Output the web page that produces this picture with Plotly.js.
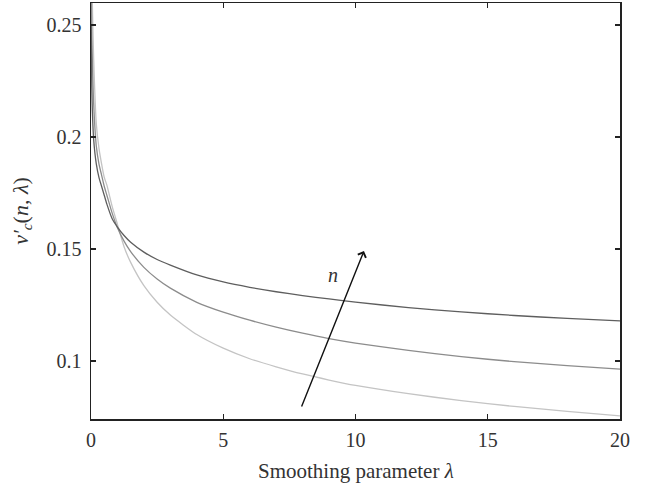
<!DOCTYPE html>
<html>
<head>
<meta charset="utf-8">
<script src="https://cdn.plot.ly/plotly-3.0.1.min.js"></script>
<style>html,body{margin:0;padding:0;background:#fff;}#chart{width:646px;height:486px;}</style>
</head>
<body>
<div id="chart"></div>
<script>
// Smoothing parameter λ (sample positions)
var lambdaVals = [0.01, 0.02, 0.03, 0.05, 0.1, 0.2, 0.3, 0.4, 0.5, 0.6, 0.8, 1.0, 1.25, 1.5, 2, 2.5, 3, 4, 5, 6, 7, 8, 9, 10, 12, 14, 16, 18, 20];
// three curves, n increasing from light to dark
var nuSmallN = [0.33, 0.30, 0.28, 0.260, 0.235, 0.206, 0.195, 0.188, 0.182, 0.1785, 0.169, 0.161, 0.151, 0.144, 0.1336, 0.1262, 0.1205, 0.1118, 0.1057, 0.1010, 0.0974, 0.0942, 0.0915, 0.0891, 0.0854, 0.0823, 0.0797, 0.0775, 0.0755];
var nuMidN   = [0.27, 0.255, 0.245, 0.235, 0.215, 0.196, 0.188, 0.183, 0.178, 0.174, 0.166, 0.1595, 0.1535, 0.1488, 0.1418, 0.1366, 0.1325, 0.1262, 0.1218, 0.1182, 0.1151, 0.1124, 0.1100, 0.1080, 0.1047, 0.1019, 0.0997, 0.0979, 0.0964];
var nuLargeN = [0.25, 0.232, 0.222, 0.212, 0.199, 0.188, 0.182, 0.178, 0.174, 0.170, 0.1635, 0.1598, 0.156, 0.153, 0.1486, 0.1453, 0.1428, 0.1384, 0.1353, 0.1329, 0.1309, 0.1292, 0.1277, 0.1263, 0.1238, 0.1219, 0.1203, 0.1190, 0.1179];
var xTicks = [0, 5, 10, 15, 20];
var yTicks = [0.1, 0.15, 0.2, 0.25];
var yTickText = ['0.1', '0.15', '0.2', '0.25'];

var fontFam = '"Liberation Serif", "DejaVu Serif", serif';
function curve(y, color) {
  return {x: lambdaVals, y: y, type: 'scatter', mode: 'lines',
    line: {color: color, width: 1.3, shape: 'spline', smoothing: 0.6},
    hoverinfo: 'skip', showlegend: false};
}
var data = [curve(nuSmallN, '#c4c4c4'), curve(nuMidN, '#8c8c8c'), curve(nuLargeN, '#5e5e5e')];

var axisCommon = {
  showgrid: false, zeroline: false, showline: true, linecolor: '#222', linewidth: 1.5,
  mirror: 'ticks', ticks: 'inside', ticklen: 5, tickwidth: 1.2, tickcolor: '#222',
  tickfont: {family: fontFam, size: 20, color: '#333'}
};
var layout = {
  width: 646, height: 486,
  margin: {l: 90.5, r: 26, t: 3, b: 67},
  paper_bgcolor: '#fff', plot_bgcolor: '#fff',
  xaxis: Object.assign({}, axisCommon, {
    range: [0, 20], tickvals: xTicks, ticklabelstandoff: 2
  }),
  yaxis: Object.assign({}, axisCommon, {
    range: [0.0741, 0.2598], tickvals: yTicks, ticktext: yTickText, ticklabelstandoff: 4,
    title: {text: '<i>ν′<sub>c</sub></i>(<i>n</i>, <i>λ</i>)', font: {family: fontFam, size: 22, color: '#333'}, standoff: 12}
  }),
  annotations: [
    {x: 10.32, y: 0.1491, ax: 7.94, ay: 0.0790, xref: 'x', yref: 'y', axref: 'x', ayref: 'y',
     text: '', showarrow: true, arrowhead: 4, arrowsize: 1.2, arrowwidth: 1.4, arrowcolor: '#111'},
    {x: 9.15, y: 0.1384, xref: 'x', yref: 'y', text: '<i>n</i>', showarrow: false,
     font: {family: fontFam, size: 20, color: '#333'}},
    {x: 0.5, y: -0.125, xref: 'paper', yref: 'paper', xanchor: 'center', yanchor: 'middle',
     text: 'Smoothing parameter <i>λ</i>', showarrow: false,
     font: {family: fontFam, size: 21, color: '#333'}}
  ]
};
Plotly.newPlot('chart', data, layout, {staticPlot: true, displayModeBar: false});
</script>
</body>
</html>
